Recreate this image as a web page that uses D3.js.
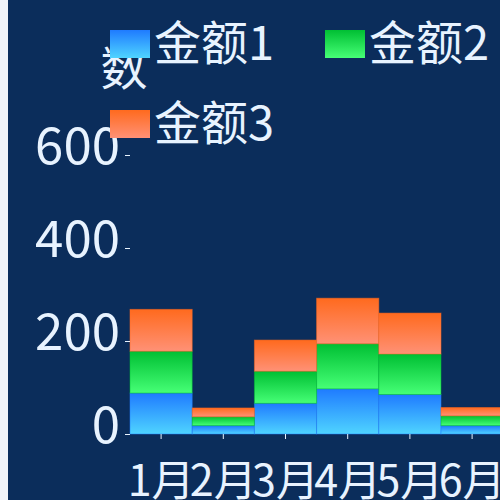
<!DOCTYPE html>
<html>
<head>
<meta charset="utf-8">
<script src="https://cdn.jsdelivr.net/npm/d3@7/dist/d3.min.js"></script>
<style>
  html, body { margin: 0; padding: 0; background: #f1f3f8; overflow: hidden; }
  svg { display: block; }
  text { font-family: "Noto Sans CJK SC", "Noto Sans", sans-serif; fill: #e8f3ff; }
</style>
</head>
<body>
<svg id="chart" width="500" height="500"></svg>
<script>
// data
var months = ["1月", "2月", "3月", "4月", "5月", "6月"];
var seriesNames = ["金额1", "金额2", "金额3"];
var amount1 = [88, 18, 66, 97, 85, 18];
var amount2 = [90, 19, 69, 97, 87, 21];
var amount3 = [90, 19, 67, 98, 88, 18];
var yTicks = [0, 200, 400, 600];

var gradColors = [
    ["#1f7bff", "#4fd4ff"],
    ["#00bf33", "#46ff76"],
    ["#ff6a1e", "#ff9176"]
];

var svg = d3.select("#chart");

svg.append("rect")
    .attr("x", 8).attr("y", 0)
    .attr("width", 492).attr("height", 500)
    .attr("fill", "#0b2d5b");

var defs = svg.append("defs");
gradColors.forEach(function (c, i) {
    var lg = defs.append("linearGradient")
        .attr("id", "grad" + i)
        .attr("x1", 0).attr("y1", 0).attr("x2", 0).attr("y2", 1);
    lg.append("stop").attr("offset", "0%").attr("stop-color", c[0]);
    lg.append("stop").attr("offset", "100%").attr("stop-color", c[1]);
});

var table = months.map(function (m, i) {
    return { month: m, s0: amount1[i], s1: amount2[i], s2: amount3[i] };
});
var stacked = d3.stack().keys(["s0", "s1", "s2"])(table);

var x = d3.scaleBand().domain(months).range([130, 503.2]).padding(0);
var y = d3.scaleLinear().domain([0, 600]).range([434, 155]);

var layer = svg.selectAll(".layer")
    .data(stacked)
    .enter().append("g")
    .attr("class", "layer")
    .attr("fill", function (d, i) { return "url(#grad" + i + ")"; })
    .attr("stroke", function (d, i) { return gradColors[i][0]; })
    .attr("stroke-opacity", 0.5)
    .attr("stroke-width", 1);

layer.selectAll("rect")
    .data(function (d) { return d; })
    .enter().append("rect")
    .attr("x", function (d) { return x(d.data.month); })
    .attr("y", function (d) { return y(d[1]); })
    .attr("width", x.bandwidth())
    .attr("height", function (d) { return y(d[0]) - y(d[1]); });

// y axis
var yAxis = svg.append("g")
    .attr("transform", "translate(130,0)")
    .call(d3.axisLeft(y).tickValues(yTicks).tickSize(5).tickPadding(5));
yAxis.select(".domain").remove();
yAxis.selectAll("line").attr("stroke", "#e8f3ff");
yAxis.selectAll("text")
    .attr("fill", "#e8f3ff")
    .attr("dy", "0.17em")
    .style("font-size", "51px")
    .style("font-family", "'Noto Sans CJK SC', sans-serif");

// x axis
var xAxis = svg.append("g")
    .attr("transform", "translate(0,434)")
    .call(d3.axisBottom(x).tickSize(5).tickPadding(26));
xAxis.select(".domain").remove();
xAxis.selectAll("line").attr("stroke", "#e8f3ff");
xAxis.selectAll("text")
    .attr("fill", "#e8f3ff")
    .style("font-size", "43px")
    .style("font-family", "'Noto Sans CJK SC', sans-serif");

// y axis name
svg.append("text")
    .attr("x", 124).attr("y", 69)
    .attr("dy", "0.35em")
    .attr("text-anchor", "middle")
    .style("font-size", "47px")
    .text("数");

// legend
var legendPos = [[110, 30], [325, 30], [110, 110]];
var legend = svg.selectAll(".legend")
    .data(seriesNames)
    .enter().append("g")
    .attr("class", "legend")
    .attr("transform", function (d, i) { return "translate(" + legendPos[i][0] + "," + legendPos[i][1] + ")"; });

legend.append("rect")
    .attr("width", 40).attr("height", 28)
    .attr("fill", function (d, i) { return "url(#grad" + i + ")"; });

legend.append("text")
    .attr("x", 44).attr("y", 13)
    .attr("dy", "0.36em")
    .style("font-size", "47px")
    .text(function (d) { return d; });
</script>
</body>
</html>
